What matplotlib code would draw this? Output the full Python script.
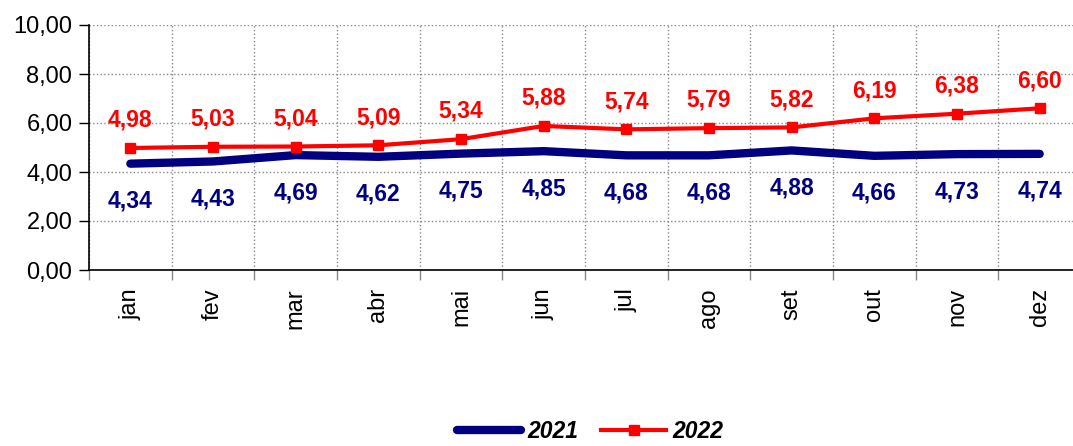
import matplotlib
matplotlib.use("Agg")
import matplotlib.pyplot as plt
import numpy as np

plt.rcParams['font.family'] = ['Liberation Sans', 'DejaVu Sans']

# Data
months = ['jan', 'fev', 'mar', 'abr', 'mai', 'jun', 'jul', 'ago', 'set', 'out', 'nov', 'dez']
v2021 = [4.34, 4.43, 4.69, 4.62, 4.75, 4.85, 4.68, 4.68, 4.88, 4.66, 4.73, 4.74]
v2022 = [4.98, 5.03, 5.04, 5.09, 5.34, 5.88, 5.74, 5.79, 5.82, 6.19, 6.38, 6.60]

navy = '#000080'
red = '#ff0000'

fig = plt.figure(figsize=(10.73, 4.46), dpi=100)
ax = fig.add_axes([89 / 1073, 1 - 270 / 446, 992 / 1073, 245 / 446])

x = np.arange(len(months))
ax.plot(x, v2021, color=navy, linewidth=6, solid_capstyle='round', label='2021', zorder=3)
ax.plot(x, v2022, color=red, linewidth=3, marker='s', markersize=7, label='2022', zorder=4)

def fmt(v):
    return f"{v:.2f}".replace('.', ',')

for xi, v in zip(x, v2021):
    ax.annotate(fmt(v), (xi, v), xytext=(0, -27), textcoords='offset points',
                ha='center', va='center', color=navy, fontsize=16.5, fontweight='bold')
for xi, v in zip(x, v2022):
    ax.annotate(fmt(v), (xi, v), xytext=(0, 20), textcoords='offset points',
                ha='center', va='center', color=red, fontsize=16.5, fontweight='bold')

ax.set_xlim(-0.5, len(months) - 0.5)
ax.set_ylim(0, 10)
ax.set_yticks(np.arange(0, 11, 2))
ax.set_yticklabels([fmt(t) for t in np.arange(0, 11, 2)], fontsize=17)

ax.set_xticks(x)
ax.set_xticklabels(months, rotation=90, fontsize=17)
ax.set_xticks(np.arange(-0.5, len(months), 1), minor=True)
ax.tick_params(axis='x', which='major', length=0, pad=13)
ax.tick_params(axis='x', which='minor', length=7, width=1, color='#888888')
ax.tick_params(axis='y', length=7, width=1, pad=5)

ax.grid(True, axis='y', which='major', linestyle=':', color='#888888', linewidth=1)
ax.grid(True, axis='x', which='minor', linestyle=':', color='#888888', linewidth=1)
ax.set_axisbelow(True)

for s in ['top', 'right']:
    ax.spines[s].set_visible(False)
ax.spines['left'].set_linewidth(1.2)
ax.spines['bottom'].set_linewidth(1.2)

leg = fig.legend(loc='center', bbox_to_anchor=(590 / 1073, 1 - 432 / 446), ncol=2, frameon=False,
                 prop={'weight': 'bold', 'style': 'italic', 'size': 16.5},
                 handlelength=2.8, columnspacing=1.0, handletextpad=0.3)

fig.savefig('out.png', dpi=100)
